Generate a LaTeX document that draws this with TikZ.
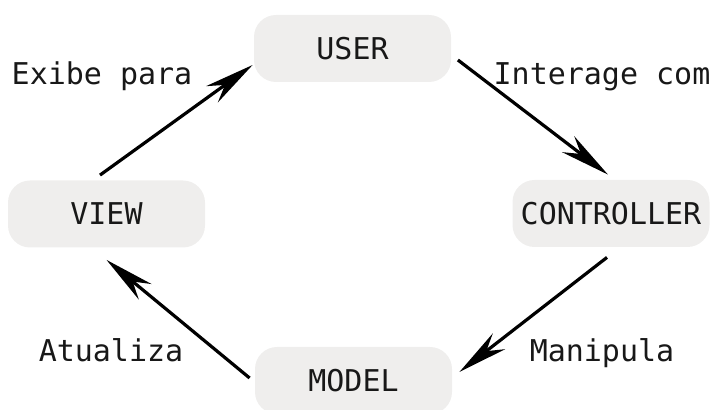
\documentclass[tikz,border=0pt]{standalone}
\usepackage{fontspec}
\setmonofont{DejaVu Sans Mono}
\usetikzlibrary{arrows.meta}
\definecolor{boxgray}{RGB}{239,238,237}
\definecolor{inkgray}{RGB}{24,24,24}
\tikzset{
    mvc/.style={fill=boxgray, rounded corners=11pt, minimum width=98.5pt,
        minimum height=33.5pt, inner sep=0pt, text=inkgray,
        font=\ttfamily\fontsize{15}{15}\selectfont},
    lbl/.style={anchor=base, text=inkgray, font=\ttfamily\fontsize{15}{15}\selectfont},
    flow/.style={-{Stealth[length=25pt, width=10pt, inset=8pt]}, line width=1.6pt}
}
\begin{document}
\begin{tikzpicture}[x=0.5pt, y=-0.5pt]
    \useasboundingbox (0, 0) rectangle (713, 410);

    %% boxes
    \node[mvc] (user) at (352.5, 48.5) {USER};
    \node[mvc] (view) at (106.5, 214) {VIEW};
    \node[mvc] (controller) at (611, 213.5) {CONTROLLER};
    \node[mvc] (model) at (353.5, 380.5) {MODEL};

    %% labels
    \node[lbl] (exibe) at (102, 85) {Exibe para};
    \node[lbl] (interage) at (602, 85) {Interage com};
    \node[lbl] (manipula) at (602, 362) {Manipula};
    \node[lbl] (atualiza) at (111, 362) {Atualiza};

    %% view -> user
    \draw[flow]
    ([xshift=-3.25pt, yshift=2.5pt]view.north)
    --
    ([xshift=-.5pt, yshift=-8.25pt]user.west) ;
    %% user -> controller
    \draw[flow]
    ([xshift=3.25pt, yshift=-5.75pt]user.east)
    --
    ([xshift=-1.5pt, yshift=2.5pt]controller.north) ;
    %% controller -> model
    \draw[flow]
    ([xshift=-2pt, yshift=-5pt]controller.south)
    --
    ([xshift=3.5pt, yshift=4.25pt]model.east) ;
    %% model -> view
    \draw[flow]
    ([xshift=-2.5pt, yshift=1.25pt]model.west)
    --
    ([yshift=-6pt]view.south) ;
\end{tikzpicture}
\end{document}
